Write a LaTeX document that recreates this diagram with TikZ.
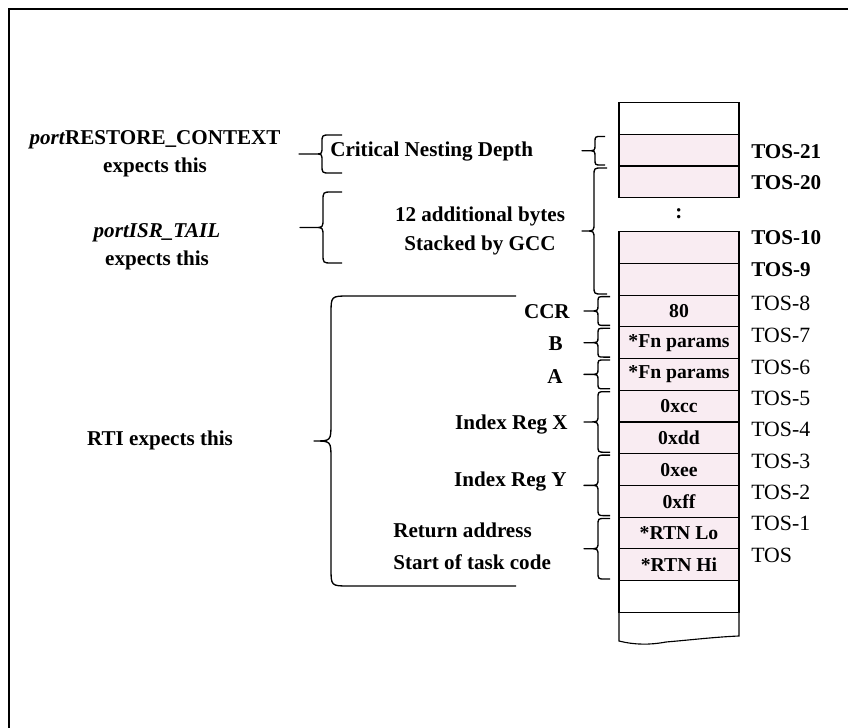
\documentclass[tikz,border=0pt]{standalone}
\usepackage{fontspec}
\setmainfont{Liberation Serif}
\usetikzlibrary{positioning}
\definecolor{cellpink}{RGB}{249,236,242}
% curly brace opening to the right: end x, top y, bottom y, inset, tip, radius, tick
\newcommand{\curlybrace}[7]{%
  \draw[bline] (#1,#2) -- ({#1-#4+#6},#2)
    .. controls ({#1-#4},#2) .. ({#1-#4},{#2+#6})
    -- ({#1-#4},{(#2+#3)/2-#6})
    .. controls ({#1-#4},{(#2+#3)/2}) .. ({#1-#4-#5},{(#2+#3)/2})
    -- ++(-#7,0) -- ({#1-#4-#5},{(#2+#3)/2})
    .. controls ({#1-#4},{(#2+#3)/2}) .. ({#1-#4},{(#2+#3)/2+#6})
    -- ({#1-#4},{#3-#6})
    .. controls ({#1-#4},#3) .. ({#1-#4+#6},#3) -- (#1,#3);}

\begin{document}
\begin{tikzpicture}[
    x=0.025cm, y=-0.025cm,
    every node/.style={font=\bfseries\fontsize{15}{20}\selectfont, inner sep=0pt},
    cell/.style={draw, line width=0.8pt, fill=cellpink, minimum width=3cm,
                 minimum height=0.7925cm, outer sep=0pt,
                 font=\bfseries\fontsize{14}{16}\selectfont},
    blank/.style={cell, fill=white},
    tosb/.style={anchor=west},
    tosr/.style={anchor=west, font=\fontsize{15.5}{18}\selectfont},
    bline/.style={line width=0.95pt, line join=round}
]
\useasboundingbox (0,0) rectangle (848,728);
% frame
\draw[line width=1.4pt] (9,728) -- (9,9) -- (848,9);

% the stack
\node[blank] (ttop) at (679,118.5) {};
\node[cell, below=0pt of ttop] (t21) {};
\node[cell, below=0pt of t21] (t20) {};
\node (dots) at (679,214) {:};
\node[cell, below=0.85cm of t20] (t10) {};
\node[cell, below=0pt of t10] (t9) {};
\node[cell, below=0pt of t9] (t8) {80};
\node[cell, below=0pt of t8] (t7) {*Fn params};
\node[cell, below=0pt of t7] (t6) {*Fn params};
\node[cell, below=0pt of t6] (t5) {0xcc};
\node[cell, below=0pt of t5] (t4) {0xdd};
\node[cell, below=0pt of t4] (t3) {0xee};
\node[cell, below=0pt of t3] (t2) {0xff};
\node[cell, below=0pt of t2] (t1) {*RTN Lo};
\node[cell, below=0pt of t1] (t0) {*RTN Hi};
\node[blank, below=0pt of t0] (tb1) {};
\draw[line width=0.8pt] (tb1.south west) -- (619,641)
    .. controls (635,645) and (650,645) .. (666,642)
    .. controls (690,640) and (715,637) .. (739,636) -- (tb1.south east);

% offsets
\node[tosb] (l21) at (751,152) {TOS-21};
\node[tosb] (l20) at (751,183) {TOS-20};
\node[tosb] (l10) at (751,238) {TOS-10};
\node[tosb] (l9) at (751,270) {TOS-9};
\node[tosr] (l8) at (751,303) {TOS-8};
\node[tosr] (l7) at (751,335) {TOS-7};
\node[tosr] (l6) at (751,367) {TOS-6};
\node[tosr] (l5) at (751,398) {TOS-5};
\node[tosr] (l4) at (751,429) {TOS-4};
\node[tosr] (l3) at (751,461) {TOS-3};
\node[tosr] (l2) at (751,492) {TOS-2};
\node[tosr] (l1) at (751,523) {TOS-1};
\node[tosr] (l0) at (751,555) {TOS};

% register braces
\curlybrace{610}{296.6}{325.4}{12}{9}{6}{5}
\curlybrace{610}{328.3}{357.1}{12}{9}{6}{5}
\curlybrace{610}{360.0}{388.8}{12}{9}{6}{5}
\curlybrace{610}{391.7}{452.2}{12}{9}{7}{5}
\curlybrace{610}{455.1}{515.6}{12}{9}{7}{5}
\curlybrace{610}{518.5}{579.0}{12}{9}{7}{5}

\node[anchor=east] (ccr) at (570,312) {CCR};
\node[anchor=east] (regb) at (563,344) {B};
\node[anchor=east] (rega) at (563,377) {A};
\node[anchor=east] (regx) at (568,425) {Index Reg X};
\node[anchor=east] (regy) at (567,482) {Index Reg Y};
\node[anchor=west, align=left, font=\bfseries\fontsize{15}{22.6}\selectfont]
    (rtn) at (393,546) {Return address\\Start of task code};

% upper braces
\curlybrace{605}{136.5}{165}{10}{8}{6}{5}
\curlybrace{607}{168}{294}{13}{9}{8}{3}

\node[anchor=west] (cnd) at (330,152) {Critical Nesting Depth};
\node[align=center] (gcc) at (480,231) {12 additional bytes\\Stacked by GCC};

\curlybrace{342}{135}{173}{20}{6}{8}{17}
\curlybrace{342}{192}{263}{19}{8}{9}{15}

\node[align=center] (rc) at (155,154) {\textit{port}RESTORE\_CONTEXT\\expects this};
\node[align=center] (isr) at (157,247) {\textit{portISR\_TAIL}\\expects this};

% RTI
\curlybrace{516}{296}{586}{185}{17}{18}{0}
\node (rti) at (160,440) {RTI expects this};
\end{tikzpicture}
\end{document}
